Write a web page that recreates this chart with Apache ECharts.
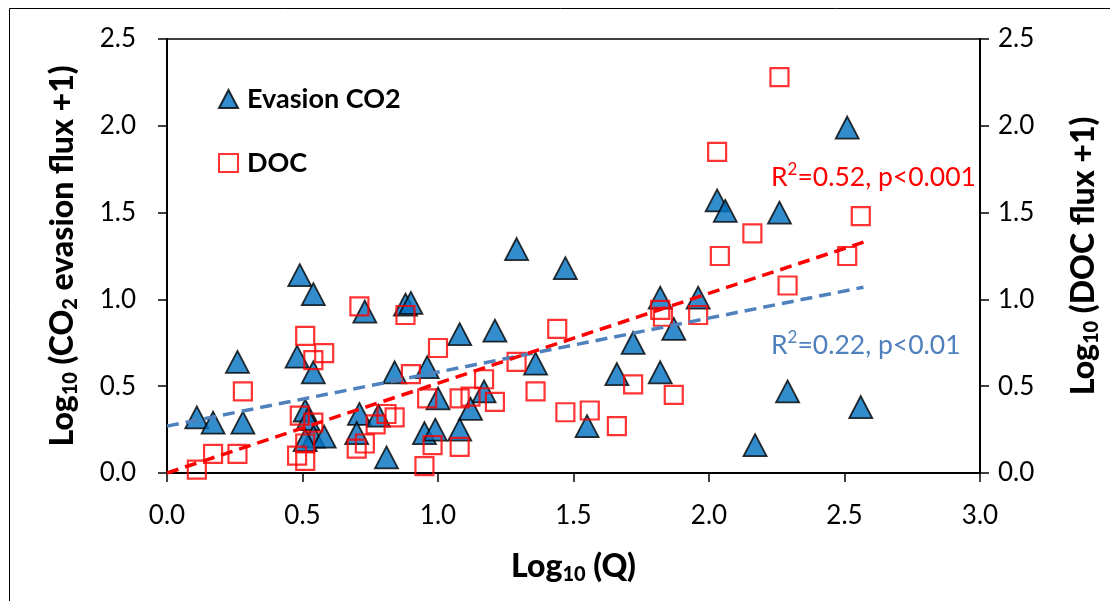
<!DOCTYPE html>
<html>
<head>
<meta charset="utf-8">
<script src="https://cdn.jsdelivr.net/npm/echarts@6/dist/echarts.min.js"></script>
<style>
html,body{margin:0;padding:0;background:#fff;}
#c{width:1110px;height:601px;}
</style>
</head>
<body>
<div id="c"></div>
<script>
// ---- data ----
const co2Q    = [0.11,0.17,0.28,0.26,0.49,0.54,0.73,0.48,0.54,0.51,0.52,0.54,0.58,0.51,0.71,0.70,0.78,0.81,0.84,0.96,0.88,0.90,1.08,1.21,1.29,1.47,1.36,1.00,1.17,1.12,0.95,0.99,1.08,1.55,2.03,2.06,2.26,1.82,1.96,1.87,1.72,1.66,1.82,2.29,2.56,2.17,2.51];
const co2Flux = [0.32,0.29,0.29,0.64,1.14,1.03,0.93,0.67,0.58,0.36,0.31,0.21,0.21,0.19,0.34,0.23,0.33,0.09,0.58,0.61,0.97,0.98,0.80,0.82,1.29,1.18,0.63,0.43,0.47,0.37,0.23,0.25,0.25,0.27,1.57,1.51,1.50,1.01,1.01,0.83,0.75,0.57,0.58,0.47,0.38,0.16,1.99];
const docQ    = [0.11,0.17,0.26,0.28,0.51,0.58,0.54,0.71,0.49,0.54,0.51,0.48,0.51,0.70,0.73,0.77,0.81,0.84,0.88,1.00,0.90,0.96,0.98,0.95,1.44,1.29,1.17,1.08,1.12,1.21,1.36,1.47,1.56,1.08,2.56,2.16,2.04,2.51,2.29,1.82,1.83,1.96,1.72,1.87,1.66,2.26,2.03];
const docFlux = [0.02,0.11,0.11,0.47,0.79,0.69,0.65,0.96,0.33,0.29,0.17,0.10,0.07,0.14,0.17,0.28,0.34,0.32,0.91,0.72,0.57,0.43,0.16,0.04,0.83,0.64,0.54,0.43,0.44,0.41,0.47,0.35,0.36,0.15,1.48,1.38,1.25,1.25,1.08,0.94,0.90,0.91,0.51,0.45,0.27,2.28,1.85];
const co2TrendQ = [0, 2.57];
const co2TrendY = [0.27, 1.07];
const docTrendQ = [0, 2.57];
const docTrendY = [0.00, 1.33];
const xTickLabels = ['0.0','0.5','1.0','1.5','2.0','2.5','3.0'];
const yTickLabels = ['0.0','0.5','1.0','1.5','2.0','2.5'];
const seriesNames = ['Evasion CO2','DOC'];

const pair = (a,b) => a.map((v,i)=>[v,b[i]]);
const FONT = 'Lato';
const fmtX = v => xTickLabels[Math.round(v/0.5)];
const fmtY = v => yTickLabels[Math.round(v/0.5)];

const nameRich = {
  b:{fontFamily:FONT,fontWeight:900,fontSize:32,color:'#000',lineHeight:36},
  s:{fontFamily:FONT,fontWeight:900,fontSize:20,color:'#000',lineHeight:14,verticalAlign:'bottom'}
};
const baseY = {
  type:'value', min:0, max:2.5, interval:0.5,
  axisLine:{show:true,onZero:false,lineStyle:{color:'#000',width:2}},
  axisTick:{show:true,length:9,lineStyle:{color:'#000',width:1.5}},
  splitLine:{show:false},
  nameLocation:'middle', nameGap:86,
  nameTextStyle:{rich:nameRich}
};

const chart = echarts.init(document.getElementById('c'), null, {renderer:'canvas'});
const option = {
  animation:false,
  backgroundColor:'#fff',
  grid:{left:167,right:125,top:39,bottom:128,show:true,borderColor:'#000',borderWidth:1.5,backgroundColor:'transparent'},
  legend:{
    data:seriesNames, orient:'vertical', left:218, top:84, padding:0,
    itemWidth:19, itemHeight:18, itemGap:34,
    textStyle:{fontFamily:FONT,fontWeight:'bold',fontSize:27,color:'#000',lineHeight:30,padding:[0,0,0,4]}
  },
  xAxis:{
    type:'value', min:0, max:3, interval:0.5,
    axisLine:{show:true,onZero:false,lineStyle:{color:'#000',width:2}},
    axisTick:{show:true,length:9,lineStyle:{color:'#000',width:1.5}},
    axisLabel:{fontFamily:FONT,fontSize:26,color:'#000',margin:30,formatter:fmtX},
    splitLine:{show:false},
    name:'{b|Log}{s|10}{b| (Q)}', nameLocation:'middle', nameGap:76,
    nameTextStyle:{rich:nameRich}
  },
  yAxis:[
    Object.assign({}, baseY, {
      position:'left',
      axisLabel:{fontFamily:FONT,fontSize:26,color:'#000',margin:31,formatter:fmtY},
      name:'{b|Log}{s|10}{b| (CO}{s|2}{b| evasion flux +1)}'
    }),
    Object.assign({}, baseY, {
      position:'right',
      axisLabel:{fontFamily:FONT,fontSize:26,color:'#000',margin:18,formatter:fmtY},
      name:'{b|Log}{s|10}{b| (DOC flux +1)}'
    })
  ],
  series:[
    {name:seriesNames[0], type:'scatter', yAxisIndex:0, data:pair(co2Q,co2Flux),
     symbol:'triangle', symbolSize:[23,22],
     itemStyle:{color:'#0070C0',borderColor:'#000',borderWidth:1.8}},
    {name:seriesNames[1], type:'scatter', yAxisIndex:1, data:pair(docQ,docFlux),
     symbol:'rect', symbolSize:18,
     itemStyle:{color:'rgba(255,255,255,0)',borderColor:'#FF0000',borderWidth:2.2}},
    {name:'co2trend', type:'line', yAxisIndex:0, data:pair(co2TrendQ,co2TrendY),
     showSymbol:false, symbol:'none', z:5,
     lineStyle:{color:'#4F81BD',width:3.5,type:[12,7]}},
    {name:'doctrend', type:'line', yAxisIndex:1, data:pair(docTrendQ,docTrendY),
     showSymbol:false, symbol:'none', z:5,
     lineStyle:{color:'#FF0000',width:3.5,type:[12,7]}}
  ],
  graphic:[
    {type:'rect', silent:true, shape:{x:9.5,y:8.5,width:1200,height:700},
     style:{fill:'none',stroke:'#000',lineWidth:1}},
    {type:'text', left:771, top:161, silent:true,
     style:{text:'{a|R}{s|2}{a|=0.52, p<0.001}',
       rich:{a:{fontFamily:FONT,fontSize:26.5,fill:'#FF0000',lineHeight:32},
             s:{fontFamily:FONT,fontSize:17,fill:'#FF0000',lineHeight:17,verticalAlign:'top'}}}},
    {type:'text', left:771, top:329, silent:true,
     style:{text:'{a|R}{s|2}{a|=0.22, p<0.01}',
       rich:{a:{fontFamily:FONT,fontSize:26.5,fill:'#4F81BD',lineHeight:32},
             s:{fontFamily:FONT,fontSize:17,fill:'#4F81BD',lineHeight:17,verticalAlign:'top'}}}}
  ]
};
chart.setOption(option);
</script>
</body>
</html>
